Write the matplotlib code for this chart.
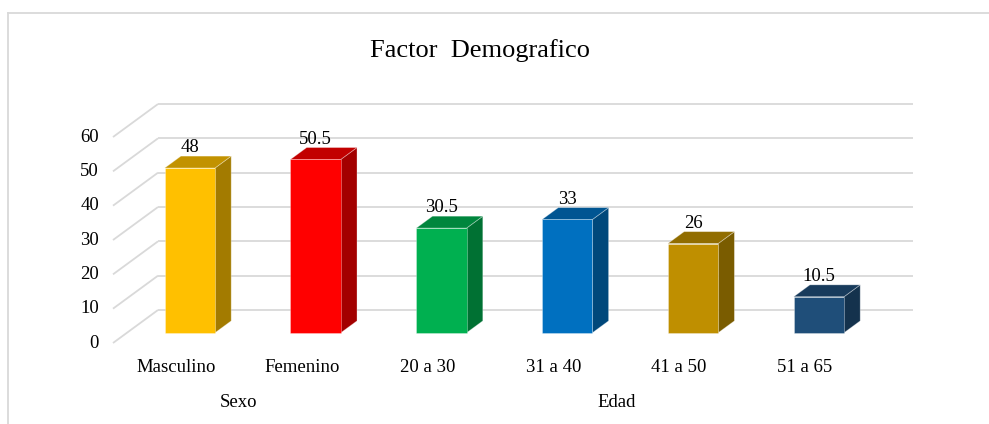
import matplotlib
matplotlib.use('Agg')
import matplotlib.pyplot as plt
from matplotlib.patches import Polygon
from matplotlib.lines import Line2D
from matplotlib.colors import to_rgb

plt.rcParams['font.family'] = ['Liberation Serif', 'DejaVu Serif']

title = "Factor  Demografico"
categories = ["Masculino", "Femenino", "20 a 30", "31 a 40", "41 a 50", "51 a 65"]
values = [48, 50.5, 30.5, 33, 26, 10.5]
value_labels = ["48", "50.5", "30.5", "33", "26", "10.5"]
groups = ["Sexo", "Edad"]
group_spans = [(0, 1), (2, 5)]
y_ticks = [0, 10, 20, 30, 40, 50, 60]
colors = ["#FFC000", "#FF0000", "#00B050", "#0070C0", "#BF8F00", "#1F4E79"]

W, H = 989, 424
fig = plt.figure(figsize=(W / 100, H / 100), dpi=100)
ax = fig.add_axes([0, 0, 1, 1])

# layout (pixels) -> data-scale mapping
X0, CAT, Y0, PPU = 113.0, 125.8, 343.0, 3.433
ax.set_xlim(-X0 / CAT, (W - X0) / CAT)
ax.set_ylim((Y0 - H) / PPU, Y0 / PPU)
ax.axis('off')
DX, DY = 45 / CAT, 33 / PPU          # full depth of the 3-D box
F1, F2 = 0.31, 0.67                  # bar depth fractions
BW = 0.40                            # bar width (category units)
n = len(categories)
grid_c = '#d9d9d9'

# gridlines (left wall diagonal + back wall)
for t in y_ticks:
    ax.plot([0, DX], [t, t + DY], color=grid_c, lw=1.3, zorder=1, solid_capstyle='butt')
    ax.plot([DX, n + DX], [t + DY, t + DY], color=grid_c, lw=1.3, zorder=1, solid_capstyle='butt')
    ax.text((99 - X0) / CAT, t, str(t), ha='right', va='center', fontsize=13.5, color='#000000')


def shade(c, f):
    r, g, b = to_rgb(c)
    return (r * f, g * f, b * f)


for i, v in enumerate(values):
    c = colors[i]
    xl = i + 0.5 - BW / 2 + F1 * DX
    xr = xl + BW
    yb = F1 * DY
    yt = v + F1 * DY
    ddx = (F2 - F1) * DX
    ddy = (F2 - F1) * DY
    front = Polygon([(xl, yb), (xr, yb), (xr, yt), (xl, yt)], closed=True,
                    facecolor=c, edgecolor=(1, 1, 1, 0.35), lw=0.6, zorder=3)
    top = Polygon([(xl, yt), (xr, yt), (xr + ddx, yt + ddy), (xl + ddx, yt + ddy)], closed=True,
                  facecolor=shade(c, 0.76), edgecolor=(1, 1, 1, 0.35), lw=0.6, zorder=3)
    side = Polygon([(xr, yb), (xr + ddx, yb + ddy), (xr + ddx, yt + ddy), (xr, yt)], closed=True,
                   facecolor=shade(c, 0.64), edgecolor=(1, 1, 1, 0.35), lw=0.6, zorder=3)
    for p in (side, top, front):
        ax.add_patch(p)
    ax.annotate(value_labels[i], (xl + BW / 2, yt + ddy), xytext=(0, 4),
                textcoords='offset pixels', ha='center', va='baseline',
                fontsize=13.5, color='#000000', zorder=4)
    ax.text(i + 0.5, (Y0 - 372) / PPU, categories[i], ha='center', va='baseline',
            fontsize=13.5, color='#000000')

for g, (a, b) in zip(groups, group_spans):
    ax.text((a + b) / 2 + 0.5, (Y0 - 407) / PPU, g, ha='center', va='baseline',
            fontsize=13.5, color='#000000')

fig.text(480 / W, 1 - 57 / H, title, ha='center', va='baseline', fontsize=19, color='#000000')

# chart area border
fig.add_artist(Line2D([7.5 / W, 1], [1 - 12.5 / H] * 2, transform=fig.transFigure,
                      color=grid_c, lw=1.3))
fig.add_artist(Line2D([7.5 / W] * 2, [0, 1 - 12.5 / H], transform=fig.transFigure,
                      color=grid_c, lw=1.3))

fig.savefig('out.png', dpi=100, facecolor='white')
